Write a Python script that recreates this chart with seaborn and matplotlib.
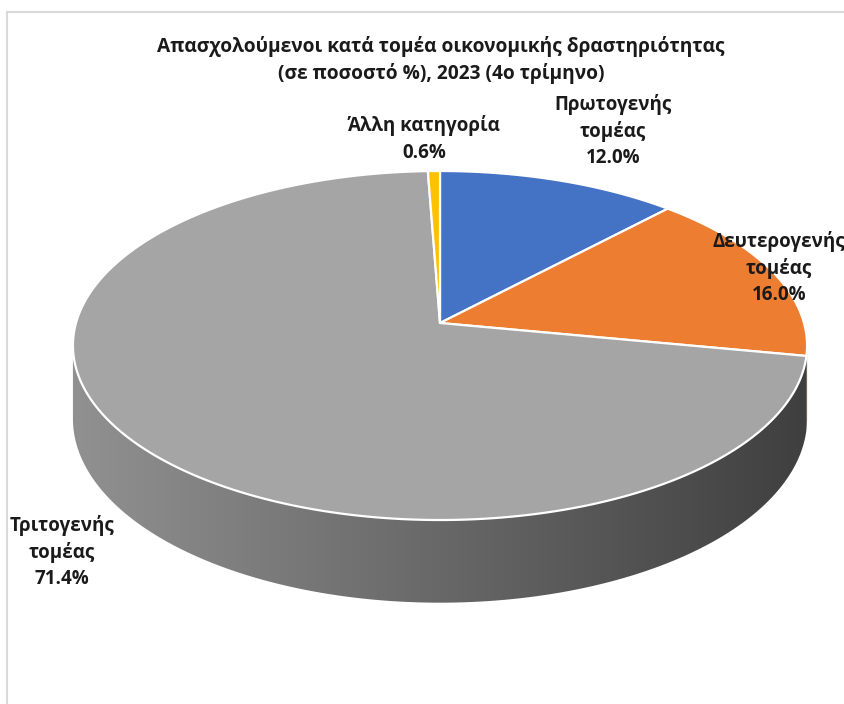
import numpy as np
import matplotlib
matplotlib.use("Agg")
import matplotlib.pyplot as plt
from matplotlib.patches import Polygon
from matplotlib.lines import Line2D
import seaborn as sns

# ---- data -------------------------------------------------------------
sectors = ["Πρωτογενής\nτομέας", "Δευτερογενής\nτομέας",
           "Τριτογενής\nτομέας", "Άλλη κατηγορία"]
shares = [12.0, 16.0, 71.4, 0.6]
slice_colors = ["#4472C4", "#ED7D31", "#A5A5A5", "#FFC000"]
title = ("Απασχολούμενοι κατά τομέα οικονομικής δραστηριότητας\n"
         "(σε ποσοστό %), 2023 (4ο τρίμηνο)")

# ---- style ------------------------------------------------------------
sns.set_theme(style="white")
plt.rcParams["font.family"] = ["Open Sans", "DejaVu Sans"]

W, H = 845, 704
fig = plt.figure(figsize=(W / 100, H / 100), dpi=100)
ax = fig.add_axes([0, 0, 1, 1])
ax.set_xlim(0, W)
ax.set_ylim(H, 0)
ax.set_axis_off()

# chart-area frame (top and left edges)
fig.add_artist(Line2D([7 / W, 7 / W], [0, 1 - 12 / H], color="#d9d9d9", lw=1.5))
fig.add_artist(Line2D([7 / W, 1], [1 - 12 / H, 1 - 12 / H], color="#d9d9d9", lw=1.5))

# ---- projected 3-D disk ----------------------------------------------
cx, cy = 440.0, 323.0      # apex of the pie on screen
A, B = 364.0, 171.6        # horizontal / vertical radii
k = 0.129                  # perspective strength
D = 72.0                   # thickness of the disk


def project(phi_deg, drop=0.0):
    """Angle measured clockwise from 12 o'clock -> screen coordinates."""
    phi = np.radians(phi_deg)
    u = np.sin(phi)
    v = -np.cos(phi)
    w = 1.0 - k * v
    return cx + A * u / w, cy + B * v / w + drop / w


total = sum(shares)
bounds = np.concatenate([[0.0], np.cumsum(shares) / total * 360.0])

# silhouette angles of the visible rim
phi_r = np.degrees(np.arccos(-k))
phi_l = 360.0 - phi_r
xs_left, _ = project(phi_l)
xs_right, _ = project(phi_r)

# horizontal shading ramp for the rim (light on the left, dark on the right)
ramp = np.linspace(0.88, 0.38, 512)[None, :]

for i, col in enumerate(slice_colors):
    a0, a1 = bounds[i], bounds[i + 1]
    lo, hi = max(a0, phi_r), min(a1, phi_l)
    if hi <= lo:
        continue
    grid = np.linspace(lo, hi, int((hi - lo) * 3) + 2)
    top = [project(p) for p in grid]
    bot = [project(p, D) for p in grid[::-1]]
    side = Polygon(top + bot, closed=True, facecolor="none",
                   edgecolor="none", zorder=1)
    ax.add_patch(side)
    rgb = np.array(matplotlib.colors.to_rgb(col))
    img = ramp[..., None] * rgb[None, None, :]
    im = ax.imshow(img, extent=(xs_left - 2, xs_right + 2, 620, 300),
                   aspect="auto", interpolation="bilinear", zorder=1)
    im.set_clip_path(side)

ax.set_xlim(0, W)
ax.set_ylim(H, 0)

# top surface
for i, col in enumerate(slice_colors):
    a0, a1 = bounds[i], bounds[i + 1]
    arc = np.linspace(a0, a1, max(int((a1 - a0) * 2), 2) + 1)
    pts = [(cx, cy)] + [project(p) for p in arc]
    ax.add_patch(Polygon(pts, closed=True, facecolor=col,
                         edgecolor="white", lw=1.6, joinstyle="round",
                         zorder=3))

# ---- labels -------------------------------------------------------------
lab_kw = dict(ha="center", va="center", fontsize=13.5, fontweight="bold",
              color="#1a1a1a", linespacing=1.4, zorder=5)
label_pos = [(613, 131), (779, 268), (62, 552), (424, 139)]
for name, val, (lx, ly) in zip(sectors, shares, label_pos):
    ax.text(lx, ly, f"{name}\n{val:.1f}%", **lab_kw)

ax.text(441, 60, title, ha="center", va="center", fontsize=13.8,
        fontweight="bold", color="#1a1a1a", linespacing=1.4)

fig.savefig("out.png", dpi=100, facecolor="white")
